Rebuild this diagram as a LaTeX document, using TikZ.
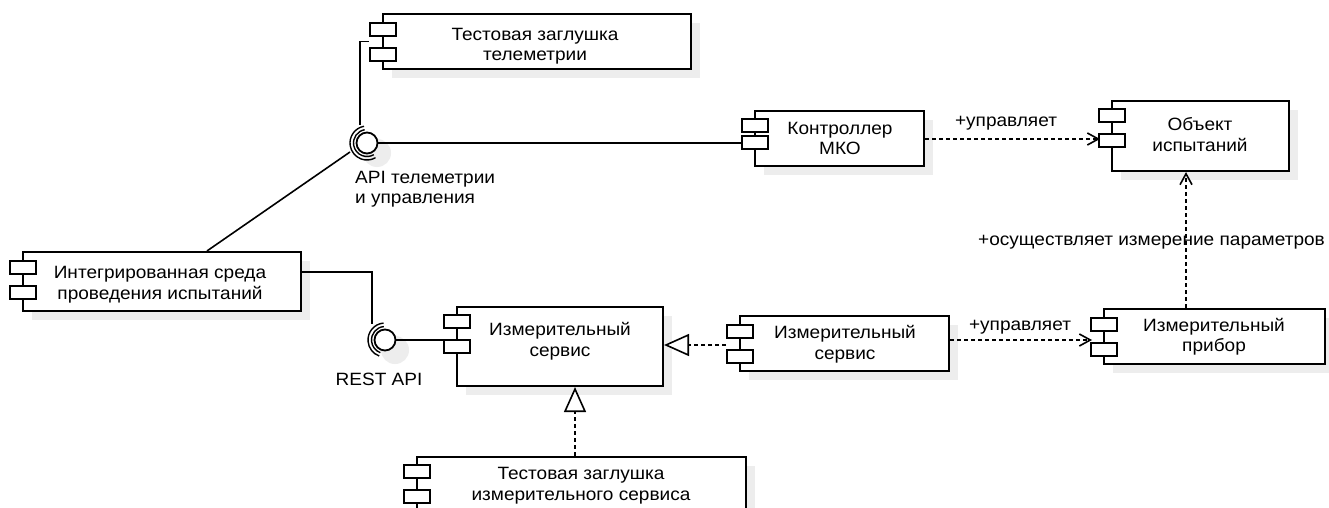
\documentclass[tikz,border=0pt]{standalone}
\usepackage{fontspec}
\setmainfont{Liberation Sans}[FakeStretch=1.07]
\usetikzlibrary{arrows.meta,calc}
\definecolor{shadecol}{HTML}{EDEDED}
\newcommand\dfs{\fontsize{17.8pt}{20.5pt}\selectfont}
\tikzset{
  box/.style={draw, line width=2.1pt, fill=white, inner sep=0pt},
  tabbox/.style={draw, line width=1.9pt, fill=white, minimum width=26pt, minimum height=13pt, inner sep=0pt},
  ctext/.style={align=center, inner sep=0pt, font=\dfs},
  lbl/.style={inner sep=0pt, font=\dfs},
  conn/.style={line width=1.6pt},
  dep/.style={line width=2pt, dash pattern=on 4pt off 3pt, -{Straight Barb[length=11pt,width=12pt,line width=1.6pt]}},
  gen/.style={line width=2pt, dash pattern=on 4pt off 3pt, -{Triangle[open,length=25pt,width=22pt,line width=1.6pt,fill=white]}},
  ball/.style={circle, draw, line width=1.8pt, fill=white, minimum size=21pt, inner sep=0pt},
  sock/.style={line width=1.4pt},
}
\newcommand\comp[7]{%
  \fill[shadecol] ({#2+9},{#3+9}) rectangle ({#4+9},{#5+9});
  \node[box, minimum width={(#4)-(#2)}, minimum height={(#5)-(#3)}] (#1) at ({((#2)+(#4))/2},{((#3)+(#5))/2}) {};
  \node[tabbox] (#1-t1) at (#2,{#6+6.5}) {};
  \node[tabbox] (#1-t2) at (#2,{#7+6.5}) {};
}
\begin{document}
\begin{tikzpicture}[x=1pt,y=-1pt]
\useasboundingbox (0,0) rectangle (1329,508);
\fill[white] (0,0) rectangle (1329,508);
\clip (0,0) rectangle (1329,508);

% components
\comp{tst1}{383}{14}{691}{69}{23}{48}
\comp{ctrl}{755}{111}{924}{166}{119}{136}
\comp{obj}{1112}{101}{1289}{171}{109}{134}
\comp{prib}{1104}{309}{1325}{364}{318}{343}
\comp{svcM}{740}{316}{949}{371}{325}{350}
\comp{svcL}{457}{307}{663}{386}{315}{340}
\comp{integ}{23}{252}{301}{311}{261}{286}
\comp{tst2}{417}{457}{746}{540}{465}{490}

% component texts
\node[ctext] (tst1-l) at (535,46.4) {\strut Тестовая заглушка\\\strut телеметрии};
\node[ctext] (ctrl-l) at (840,140.4) {\strut Контроллер\\\strut МКО};
\node[ctext] (obj-l) at (1200,137) {\strut Объект\\\strut испытаний};
\node[ctext] (prib-l) at (1214,337.2) {\strut Измерительный\\\strut прибор};
\node[ctext] (svcM-l) at (845,345) {\strut Измерительный\\\strut сервис};
\node[ctext] (svcL-l) at (560,342) {\strut Измерительный\\\strut сервис};
\node[ctext] (integ-l) at (160,285) {\strut Интегрированная среда\\\strut проведения испытаний};
\node[ctext] (tst2-l) at (581,486) {\strut Тестовая заглушка\\\strut измерительного сервиса};

% interface balls: shadows
\fill[shadecol] (377,153) circle[radius=14];
\fill[shadecol] (395,350) circle[radius=14];

% named points
\coordinate (c1) at (367,143);
\coordinate (c2) at (385,340);
\coordinate (gx) at (575,420);
\coordinate (vx) at (1186,240);
\coordinate (pribIn) at (1092,340);
\coordinate (objIn) at (1100,139);
\coordinate (genY) at (700,345);

% solid connectors
\draw[conn] ($(c1)+(-7,-18)$) |- (tst1-t1.west |- tst1.west);
\draw[conn] ($(c1)+(10,0)$) -- (c1 -| ctrl-t2.west);
\draw[conn] ($(c1)+(-17,9)$) -- ($(integ.north)+(45,0)$);
\draw[conn] ($(integ.east)+(0,-9.5)$) -| ($(c2)+(-13,-16)$);
\draw[line width=2pt] ($(c2)+(10,0)$) -- (c2 -| svcL-t2.west);

% balls and sockets
\node[ball] (ball1) at (c1) {};
\node[ball] (ball2) at (c2) {};
\draw[sock,shift={(c1)}] (-100:13.5) arc[start angle=-100,end angle=-300,radius=13.5];
\draw[sock,shift={(c1)}] (-100:17) arc[start angle=-100,end angle=-300,radius=17];
\draw[sock,shift={(c2)}] (-95:13.5) arc[start angle=-95,end angle=-250,radius=13.5];
\draw[sock,shift={(c2)}] (-95:17) arc[start angle=-95,end angle=-250,radius=17];

% dependencies
\draw[dep] (ctrl.east |- objIn) -- (objIn);
\draw[dep] (svcM.east |- pribIn) -- (pribIn);
\draw[dep] (prib.north -| vx) -- (obj.south -| vx);

% generalizations
\draw[gen] (tst2.north -| gx) -- (svcL.south -| gx);
\draw[gen] (svcM-t1.west |- genY) -- (svcL.east |- genY);

% labels
\node[lbl, anchor=base] (lab1) at (1006,127) {+управляет};
\node[lbl, anchor=base] (lab2) at (1020,330) {+управляет};
\node[lbl, anchor=base] (lab3) at (1151.5,245) {+осуществляет измерение параметров};
\node[lbl] (labrest) at (379,379) {REST API};
\node[lbl, align=left, anchor=west] (labapi) at (355,189.4) {\strut API телеметрии\\\strut и управления};
\end{tikzpicture}
\end{document}
